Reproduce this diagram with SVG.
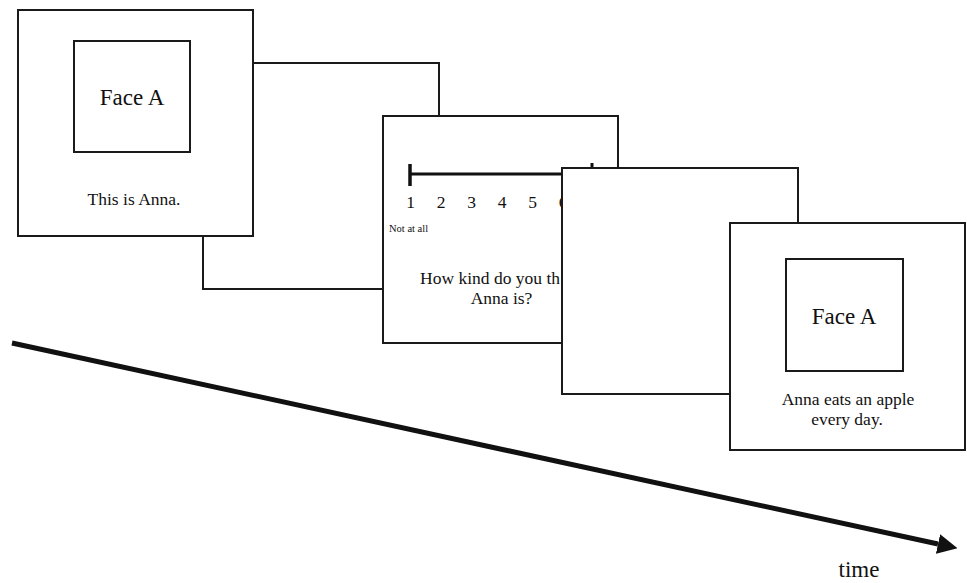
<svg xmlns="http://www.w3.org/2000/svg" width="967" height="583" viewBox="0 0 967 583">
<style>
.frame{fill:#fff;stroke:#1a1a1a;stroke-width:2}
.inner{fill:#fff;stroke:#1a1a1a;stroke-width:2}
.t{fill:#111}
.big{font-size:23px;text-anchor:middle}
.mid{font-size:17.5px;text-anchor:middle}
.small{font-size:10.5px}
</style>
<defs>
<marker id="arrowhead" markerWidth="4" markerHeight="4" refX="0" refY="2" orient="auto" markerUnits="strokeWidth">
<path d="M0,0 L4,2 L0,4 Z" fill="#111"/>
</marker>
</defs>
<rect width="967" height="583" fill="#fff"/>
<g font-family="Liberation Serif, serif">
<g id="frame2">
<rect class="frame" x="203" y="63" width="236" height="226"/>
</g>
<g id="frame1">
<rect class="frame" x="18" y="10" width="235" height="226"/>
<rect class="inner" x="74" y="41" width="116" height="111"/>
<text class="t big" x="132" y="105">Face A</text>
<text class="t mid" x="134" y="205">This is Anna.</text>
</g>
<g id="frame3">
<rect class="frame" x="383" y="116" width="235" height="227"/>
<line x1="410" y1="174" x2="592" y2="174" stroke="#111" stroke-width="3"/>
<line x1="410" y1="164" x2="410" y2="186" stroke="#111" stroke-width="3.5"/>
<line x1="592" y1="163" x2="592" y2="185" stroke="#111" stroke-width="3"/>
<text class="t mid" x="410.5" y="208">1</text>
<text class="t mid" x="441" y="208">2</text>
<text class="t mid" x="471.5" y="208">3</text>
<text class="t mid" x="502" y="208">4</text>
<text class="t mid" x="532.5" y="208">5</text>
<text class="t mid" x="563" y="208">6</text>
<text class="t small" x="389" y="232">Not at all</text>
<text class="t" font-size="17.5" x="420" y="284">How kind do you th</text>
<text class="t mid" x="501.5" y="304">Anna is?</text>
</g>
<g id="frame4">
<rect class="frame" x="562" y="168" width="236" height="226"/>
</g>
<g id="frame5">
<rect class="frame" x="730" y="223" width="235" height="227"/>
<rect class="inner" x="786" y="259" width="117" height="112"/>
<text class="t big" x="844" y="324">Face A</text>
<text class="t mid" x="848" y="405">Anna eats an apple</text>
<text class="t mid" x="847" y="425">every day.</text>
</g>
<g id="connectors">
<line x1="12" y1="343" x2="938" y2="544" stroke="#111" stroke-width="5" marker-end="url(#arrowhead)"/>
</g>
<text class="t" x="859" y="577" font-size="23" text-anchor="middle">time</text>
</g>
</svg>
